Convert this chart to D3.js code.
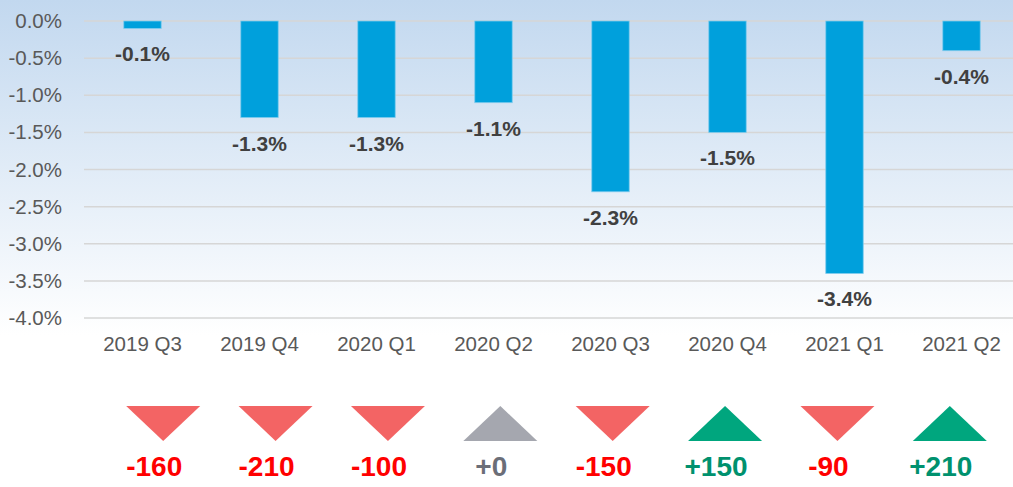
<!DOCTYPE html>
<html>
<head>
<meta charset="utf-8">
<script src="https://cdn.jsdelivr.net/npm/d3@7"></script>
<style>
  body { margin: 0; background: #fff; }
  svg { display: block; font-family: "Liberation Sans", Arial, sans-serif; }
</style>
</head>
<body>
<div id="chart"></div>
<script>
// quarters, % change and headcount change
const quarters = ["2019 Q3", "2019 Q4", "2020 Q1", "2020 Q2", "2020 Q3", "2020 Q4", "2021 Q1", "2021 Q2"];
const pctValues = [-0.1, -1.3, -1.3, -1.1, -2.3, -1.5, -3.4, -0.4];
const changes = [-160, -210, -100, 0, -150, 150, -90, 210];
const yTicks = [0, -0.5, -1, -1.5, -2, -2.5, -3, -3.5, -4];

const W = 1013, H = 487;

const svg = d3.select("#chart")
    .append("svg")
    .attr("width", W)
    .attr("height", H);

// background gradient
const defs = svg.append("defs");
const grad = defs.append("linearGradient")
    .attr("id", "bg")
    .attr("x1", 0).attr("y1", 0).attr("x2", 0).attr("y2", 1);
grad.append("stop").attr("offset", "0%").attr("stop-color", "#c2d8ef");
grad.append("stop").attr("offset", "100%").attr("stop-color", "#ffffff");

svg.append("rect")
    .attr("x", 0).attr("y", 0)
    .attr("width", W).attr("height", 335)
    .attr("fill", "url(#bg)");

const x = d3.scaleBand()
    .domain(quarters)
    .range([84, 1020])
    .paddingInner(0.68)
    .paddingOuter(0.34);

const y = d3.scaleLinear()
    .domain([-4, 0])
    .range([318, 21]);

// gridlines
svg.append("g")
    .selectAll("line")
    .data(yTicks)
    .enter()
    .append("line")
    .attr("x1", 84)
    .attr("x2", W)
    .attr("y1", d => y(d))
    .attr("y2", d => y(d))
    .attr("stroke", "#d6d6d6")
    .attr("stroke-width", 1.5);

// y axis labels
const yAxis = svg.append("g")
    .attr("transform", "translate(62,0)")
    .call(d3.axisLeft(y).tickValues(yTicks).tickSize(0).tickPadding(0).tickFormat(d => d.toFixed(1) + "%"));
yAxis.select(".domain").remove();
yAxis.selectAll("text")
    .attr("fill", "#595959")
    .style("font-size", "20.5px")
    .style("font-family", "Liberation Sans, Arial, sans-serif");

// x axis labels
const xAxis = svg.append("g")
    .attr("transform", "translate(0,336)")
    .call(d3.axisBottom(x).tickSize(0).tickPadding(0));
xAxis.select(".domain").remove();
xAxis.selectAll("text")
    .attr("fill", "#595959")
    .attr("dy", "0.71em")
    .style("font-size", "20.5px")
    .style("font-family", "Liberation Sans, Arial, sans-serif");

// bars
const rows = quarters.map((q, i) => ({ q: q, v: pctValues[i], c: changes[i] }));

svg.selectAll(".bar")
    .data(rows)
    .enter()
    .append("rect")
    .attr("class", "bar")
    .attr("x", d => x(d.q))
    .attr("y", y(0))
    .attr("width", x.bandwidth())
    .attr("height", d => y(d.v) - y(0))
    .attr("fill", "#00a0dc")
    .attr("stroke", "#7fcbed")
    .attr("stroke-width", 0.8);

// bar labels
svg.selectAll(".bar-label")
    .data(rows)
    .enter()
    .append("text")
    .attr("class", "bar-label")
    .attr("x", d => x(d.q) + x.bandwidth() / 2)
    .attr("y", d => y(d.v) + 33)
    .attr("text-anchor", "middle")
    .attr("fill", "#404040")
    .style("font-size", "21px")
    .style("font-weight", "bold")
    .text(d => d.v.toFixed(1) + "%");

// change arrows
const xt = d3.scaleBand()
    .domain(quarters)
    .range([107, 1006]);

const triColor = d => d.c > 0 ? "#00a67e" : d.c < 0 ? "#f36464" : "#a5a7af";
const txtColor = d => d.c > 0 ? "#00916e" : d.c < 0 ? "#ff0000" : "#6b6e78";

svg.selectAll(".tri")
    .data(rows)
    .enter()
    .append("path")
    .attr("class", "tri")
    .attr("d", d => {
        const cx = xt(d.q) + xt.bandwidth() / 2;
        const top = 406, bot = 441, hw = 37;
        if (d.c < 0) return `M${cx - hw},${top}L${cx + hw},${top}L${cx},${bot}Z`;
        return `M${cx - hw},${bot}L${cx + hw},${bot}L${cx},${top}Z`;
    })
    .attr("fill", triColor);

svg.selectAll(".chg")
    .data(rows)
    .enter()
    .append("text")
    .attr("class", "chg")
    .attr("x", d => xt(d.q) + xt.bandwidth() / 2 - 9)
    .attr("y", 476)
    .attr("text-anchor", "middle")
    .attr("fill", txtColor)
    .style("font-size", "28px")
    .style("font-weight", "bold")
    .text(d => (d.c >= 0 ? "+" : "") + d.c);
</script>
</body>
</html>
